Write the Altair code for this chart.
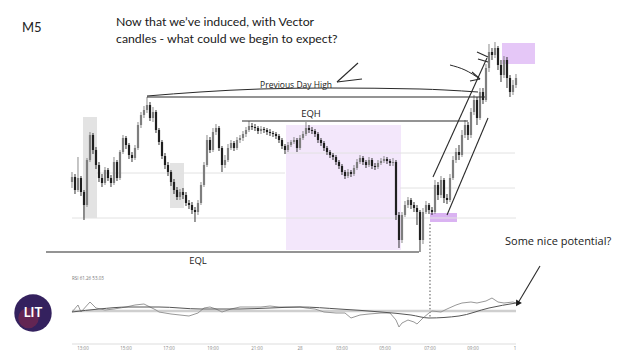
import altair as alt
import pandas as pd

# ---------------- scales (bar index / price units / oscillator units) ----------
X_DOMAIN = [-21.333, 186.667]
P_DOMAIN = [-52, 292]
O_DOMAIN = [-32, 656]

# ---------------- candles (M5) -------------------------------------------------
first_open = 118
close = [123, 110, 122, 108, 95, 140, 165, 150, 135, 122,
         117, 130, 122, 117, 138, 122, 148, 162, 155, 145,
         142, 152, 175, 185, 190, 195, 182, 188, 170, 158,
         144, 135, 128, 118, 110, 103, 108, 105, 97, 95,
         90, 88, 97, 115, 135, 160, 150, 168, 172, 152,
         135, 140, 152, 157, 152, 160, 162, 166, 170, 174,
         173, 172, 169, 171, 170, 168, 167, 166, 164, 160,
         154, 150, 155, 158, 160, 152, 162, 166, 172, 170,
         169, 166, 160, 157, 152, 148, 145, 143, 138, 134,
         128, 124, 128, 126, 132, 138, 142, 138, 135, 140,
         134, 133, 137, 139, 141, 139, 137, 138, 85, 60,
         85, 95, 100, 95, 92, 88, 60, 88, 95, 90,
         88, 115, 105, 120, 102, 100, 122, 140, 148, 145,
         165, 175, 165, 188, 200, 182, 208, 200, 232, 248,
         245, 252, 235, 225, 240, 222, 208, 215, 222]
high = [128, 126, 143, 124, 110, 142, 168, 167, 153, 138,
        126, 133, 132, 125, 143, 140, 150, 165, 164, 157,
        148, 155, 178, 188, 194, 203, 198, 193, 190, 172,
        160, 147, 138, 130, 121, 113, 111, 112, 108, 100,
        98, 93, 100, 118, 138, 165, 163, 172, 176, 174,
        154, 145, 156, 160, 159, 163, 165, 169, 173, 179,
        177, 176, 174, 174, 173, 172, 171, 169, 168, 166,
        162, 156, 158, 160, 163, 162, 165, 169, 178, 175,
        173, 171, 168, 162, 159, 154, 150, 147, 145, 140,
        136, 130, 131, 130, 135, 141, 145, 144, 140, 143,
        142, 137, 140, 142, 144, 143, 141, 142, 140, 88,
        88, 99, 103, 102, 98, 95, 90, 92, 99, 97,
        93, 120, 118, 124, 122, 106, 126, 144, 152, 155,
        170, 180, 178, 192, 205, 203, 212, 212, 236, 256,
        252, 258, 254, 240, 244, 243, 225, 220, 226]
low = [112, 106, 108, 104, 80, 93, 138, 146, 131, 118,
       113, 115, 119, 113, 115, 119, 120, 146, 151, 141,
       138, 140, 150, 172, 182, 187, 179, 178, 167, 155,
       141, 131, 124, 114, 106, 100, 100, 101, 94, 91,
       86, 78, 85, 95, 113, 133, 147, 148, 165, 149,
       128, 132, 138, 150, 149, 150, 157, 159, 163, 168,
       170, 169, 166, 166, 167, 165, 164, 163, 161, 157,
       151, 146, 148, 153, 156, 148, 150, 160, 164, 167,
       166, 163, 157, 154, 149, 145, 142, 140, 135, 131,
       125, 121, 122, 123, 124, 130, 136, 135, 132, 133,
       131, 130, 131, 135, 137, 136, 134, 134, 80, 52,
       57, 83, 92, 91, 88, 75, 48, 56, 86, 86,
       85, 86, 100, 102, 97, 96, 98, 120, 137, 140,
       143, 162, 160, 162, 185, 175, 180, 196, 198, 228,
       240, 242, 230, 218, 222, 212, 203, 205, 212]

# ---------------- oscillator panel ----------------------------------------------
osc_bar = [0, 2, 3, 6, 8, 11, 14, 18, 21, 24, 26, 28, 29, 33, 36, 39, 42, 44, 46, 48,
           50, 53, 56, 59, 63, 66, 69, 73, 76, 78, 81, 84, 88, 91, 93, 96, 99, 103, 106, 108,
           109, 110, 112, 114, 115, 117, 119, 120, 123, 125, 128, 130, 133, 135, 138, 140,
           142, 144, 147, 148]
osc_val = [48, 62, 48, 68, 56, 52, 54, 58, 62, 64, 58, 52, 48, 44, 42, 40, 46, 56, 58, 54,
           48, 54, 58, 58, 58, 60, 58, 58, 58, 56, 54, 48, 46, 46, 36, 42, 44, 46, 46, 32,
           18, 26, 32, 28, 24, 36, 46, 50, 48, 54, 62, 66, 68, 66, 70, 76, 68, 66, 68, 66]
ma_bar = [0, 9, 19, 29, 43, 56, 66, 76, 89, 103, 113, 119, 129, 139, 148]
ma_val = [48, 54, 58, 58, 54, 54, 56, 58, 54, 48, 42, 36, 40, 56, 66]
osc_level = 50
time_labels = ["13:00", "15:00", "17:00", "19:00", "21:00", "28",
               "03:00", "05:00", "07:00", "09:00", "1"]
time_label_bar = [3.67, 18, 32.33, 47, 61.67, 76, 90, 104.33, 119.33, 133.67, 147.67]

# ---------------- annotations ---------------------------------------------------
zone_x0 = [3.67, 32.67, 71.33, 119.33, 143.33]
zone_x1 = [8.33, 37.33, 109.67, 128.33, 154.33]
zone_y0 = [183, 137, 175, 87, 257]
zone_y1 = [82, 92, 50, 78, 236]
zone_col = ["#e3e3e3", "#e3e3e3", "#f3e7fb", "#dab3f2", "#e5c7f7"]

grid_x0 = [0, 7.67, 71, 109.33]
grid_x1 = [148, 71, 147.67, 147.67]
grid_y = [82, 127, 147, 112]

seg_x0 = [25, 56.67, -8.67, 120.33, 125, 95.33, 88.33, 133.33, 132.67, 135, 135.33, 156]
seg_y0 = [203, 179, 48, 123, 85, 237, 218, 228, 219, 248, 241, 34]
seg_x1 = [137.67, 132, 115.67, 138.33, 138.67, 88.33, 96.67, 136, 136, 138.67, 138.67, 148.67]
seg_y1 = [203, 179, 48, 242, 182, 218, 221, 221, 221, 243, 238, -3]

curve_g = ["pdh"] * 7 + ["arr"] * 3
curve_x = [25, 42.67, 62.67, 86, 116, 124.33, 135.33, 126, 131, 136]
curve_y = [204, 208, 211, 212, 211, 210, 208, 235, 230, 221]

dotted_x = 119.33
dotted_y = [76, -18]


def X(f):
    return alt.X(f"{f}:Q", scale=alt.Scale(domain=X_DOMAIN), axis=None)


def YP(f):
    return alt.Y(f"{f}:Q", scale=alt.Scale(domain=P_DOMAIN), axis=None)


def YO(f):
    return alt.Y(f"{f}:Q", scale=alt.Scale(domain=O_DOMAIN), axis=None)


opens = [first_open] + close[:-1]
candles = pd.DataFrame({"bar": list(range(len(close))), "open": opens,
                        "close": close, "high": high, "low": low})
up = alt.condition("datum.close >= datum.open", alt.value("#7e7e7e"), alt.value("#1f1f1f"))

zones = alt.Chart(pd.DataFrame({"x0": zone_x0, "x1": zone_x1, "y0": zone_y0,
                                "y1": zone_y1, "c": zone_col})).mark_rect().encode(
    x=X("x0"), x2="x1", y=YP("y0"), y2="y1", color=alt.Color("c:N", scale=None))

grid = alt.Chart(pd.DataFrame({"x0": grid_x0, "x1": grid_x1, "y": grid_y})).mark_rule(
    color="#e2e2e2", strokeWidth=1).encode(x=X("x0"), x2="x1", y=YP("y"))

wicks = alt.Chart(candles).mark_rule(strokeWidth=0.9).encode(
    x=X("bar"), y=YP("low"), y2="high", color=up)
bodies = alt.Chart(candles).mark_rule(strokeWidth=2.2).encode(
    x=X("bar"), y=YP("open"), y2="close", color=up)

segs = alt.Chart(pd.DataFrame({"x0": seg_x0, "y0": seg_y0, "x1": seg_x1, "y1": seg_y1})).mark_rule(
    color="#2a2a2a", strokeWidth=1.1).encode(x=X("x0"), x2="x1", y=YP("y0"), y2="y1")

curves = alt.Chart(pd.DataFrame({"g": curve_g, "x": curve_x, "y": curve_y,
                                 "k": list(range(len(curve_x)))})).mark_line(
    color="#2a2a2a", strokeWidth=1, interpolate="monotone").encode(
    x=X("x"), y=YP("y"), detail="g:N", order="k:Q")

dotted = alt.Chart(pd.DataFrame({"x": [dotted_x], "y0": [dotted_y[0]], "y1": [dotted_y[1]]})).mark_rule(
    color="#555555", strokeWidth=1, strokeDash=[1.5, 2]).encode(x=X("x"), y=YP("y0"), y2="y1")

arrow_head = alt.Chart(pd.DataFrame({"x": [seg_x1[-1]], "y": [seg_y1[-1]]})).mark_point(
    shape="triangle", filled=True, size=45, angle=211, color="#1a1a1a", opacity=1).encode(
    x=X("x"), y=YP("y"))


def txt(df, **kw):
    return alt.Chart(df).mark_text(**kw).encode(x=X("x"), y=YP("y"), text="t:N")


t_m5 = txt(pd.DataFrame({"x": [-16.67], "y": [272], "t": ["M5"]}),
           align="left", baseline="middle", font="Lato", fontSize=13, color="#222")
t_title = txt(pd.DataFrame({"x": [14.67, 14.67], "y": [278, 261],
                            "t": ["Now that we\u2019ve induced, with Vector",
                                  "candles - what could we begin to expect?"]}),
              align="left", baseline="middle", font="Lato", fontSize=12.3, color="#1a1a1a")
t_pdh = txt(pd.DataFrame({"x": [74.67], "y": [215], "t": ["Previous Day High"]}),
            align="center", baseline="middle", font="Open Sans", fontSize=8.5, color="#222")
t_eqh = txt(pd.DataFrame({"x": [79.67], "y": [186], "t": ["EQH"]}),
            align="center", baseline="middle", font="Open Sans", fontSize=9.5, color="#222")
t_eql = txt(pd.DataFrame({"x": [42], "y": [39], "t": ["EQL"]}),
            align="center", baseline="middle", font="Open Sans", fontSize=9.5, color="#222")
t_pot = txt(pd.DataFrame({"x": [144.33], "y": [58], "t": ["Some nice potential?"]}),
            align="left", baseline="middle", font="Open Sans", fontSize=11, color="#1a1a1a")

logo = alt.Chart(pd.DataFrame({"x": [-13], "y": [-13]})).mark_point(
    shape="circle", filled=True, size=1400, color="#34215e", opacity=1).encode(x=X("x"), y=YP("y"))
logo2 = alt.Chart(pd.DataFrame({"x": [-14.5], "y": [-18]})).mark_point(
    shape="circle", filled=True, size=420, color="#8a2a4a", opacity=0.55).encode(x=X("x"), y=YP("y"))
logo_t = txt(pd.DataFrame({"x": [-13], "y": [-13], "t": ["LIT"]}),
             align="center", baseline="middle", font="Lato", fontSize=13, fontWeight="bold",
             color="white")

band = alt.Chart(pd.DataFrame({"x0": [0], "x1": [148], "v": [osc_level]})).mark_rule(
    color="#cfcfcf", strokeWidth=2.5).encode(x=X("x0"), x2="x1", y=YO("v"))
osc = alt.Chart(pd.DataFrame({"x": osc_bar, "v": osc_val})).mark_line(
    color="#8c8c8c", strokeWidth=0.9).encode(x=X("x"), y=YO("v"))
ma = alt.Chart(pd.DataFrame({"x": ma_bar, "v": ma_val})).mark_line(
    color="#555555", strokeWidth=1, interpolate="monotone").encode(x=X("x"), y=YO("v"))
time_axis = alt.Chart(pd.DataFrame({"x0": [0], "x1": [148], "v": [-16]})).mark_rule(
    color="#dddddd", strokeWidth=1).encode(x=X("x0"), x2="x1", y=YO("v"))
time_txt = alt.Chart(pd.DataFrame({"x": time_label_bar, "v": [-26] * len(time_labels),
                                   "t": time_labels})).mark_text(
    fontSize=4.5, color="#888888", font="Open Sans").encode(x=X("x"), y=YO("v"), text="t:N")
rsi_txt = alt.Chart(pd.DataFrame({"x": [0], "v": [114], "t": ["RSI  61.26  53.03"]})).mark_text(
    fontSize=4.5, color="#777777", align="left", font="Open Sans").encode(x=X("x"), y=YO("v"), text="t:N")

chart = alt.layer(
    zones, grid, wicks, bodies, segs, curves, dotted, arrow_head,
    t_m5, t_title, t_pdh, t_eqh, t_eql, t_pot, logo, logo2, logo_t,
    band, osc, ma, time_axis, time_txt, rsi_txt
).resolve_scale(y="independent").properties(
    width=624, height=344, padding=0, autosize="none", background="white"
).configure_view(stroke=None)

chart.save("out.html", embed_options={"renderer": "svg", "actions": False})
